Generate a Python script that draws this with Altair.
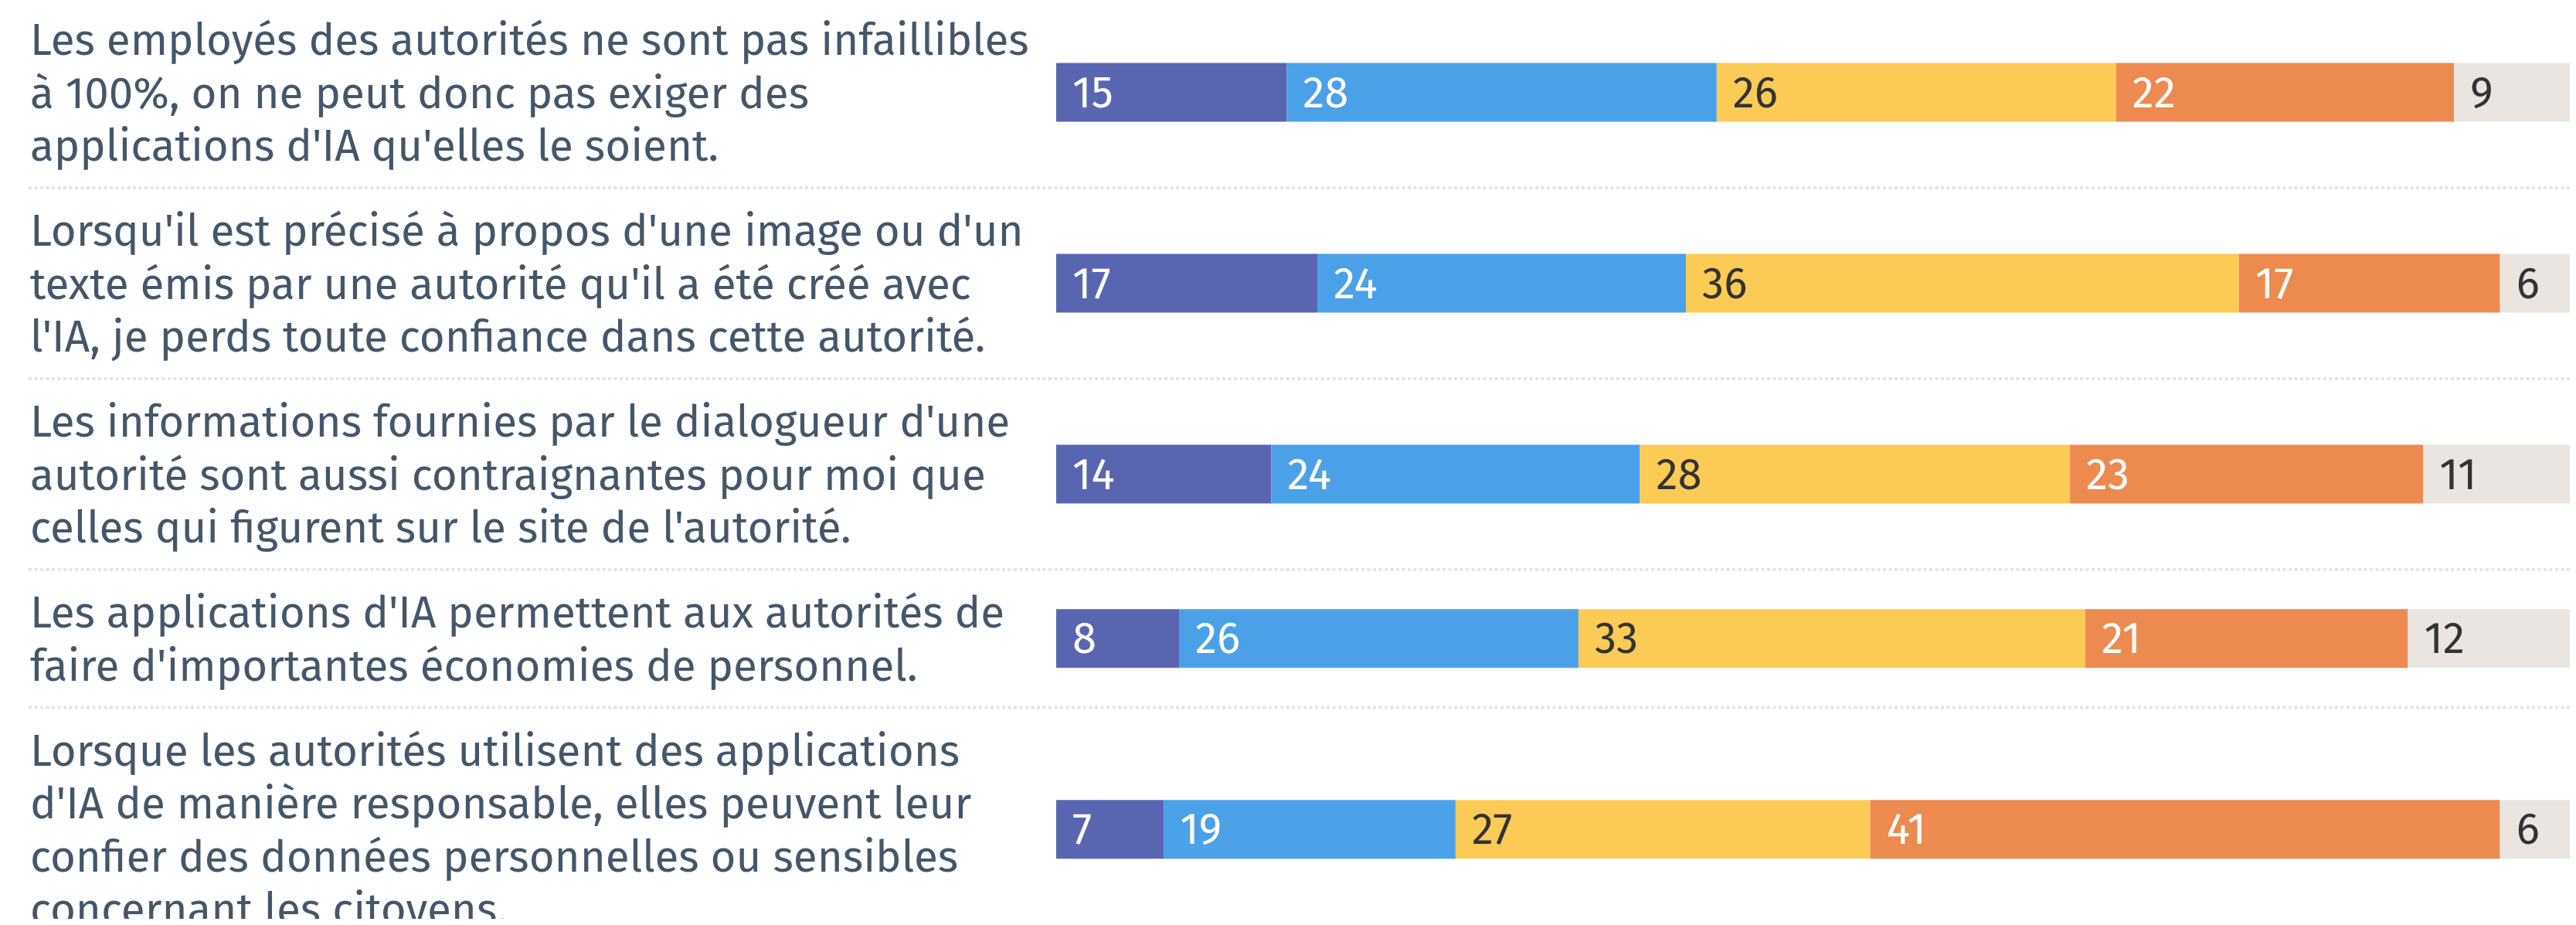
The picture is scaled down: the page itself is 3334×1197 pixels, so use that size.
import altair as alt
import pandas as pd

# ---- data ----
statements = [
    ["Les employés des autorités ne sont pas infaillibles",
     "à 100%, on ne peut donc pas exiger des",
     "applications d'IA qu'elles le soient."],
    ["Lorsqu'il est précisé à propos d'une image ou d'un",
     "texte émis par une autorité qu'il a été créé avec",
     "l'IA, je perds toute confiance dans cette autorité."],
    ["Les informations fournies par le dialogueur d'une",
     "autorité sont aussi contraignantes pour moi que",
     "celles qui figurent sur le site de l'autorité."],
    ["Les applications d'IA permettent aux autorités de",
     "faire d'importantes économies de personnel."],
    ["Lorsque les autorités utilisent des applications",
     "d'IA de manière responsable, elles peuvent leur",
     "confier des données personnelles ou sensibles",
     "concernant les citoyens."],
]
categories = ["Tout à fait d'accord", "Plutôt d'accord", "Plutôt pas d'accord",
              "Pas du tout d'accord", "Ne sait pas"]
cat_colors = ["#5a65b2", "#4aa1e8", "#fccb55", "#ed8a50", "#eae5e1"]
cat_text_colors = ["#ffffff", "#ffffff", "#333333", "#ffffff", "#333333"]

v_tout_fait = [15, 17, 14, 8, 7]
v_plutot = [28, 24, 24, 26, 19]
v_plutot_pas = [26, 36, 28, 33, 27]
v_pas_du_tout = [22, 17, 23, 21, 41]
v_nsp = [9, 6, 11, 12, 6]
series = [v_tout_fait, v_plutot, v_plutot_pas, v_pas_du_tout, v_nsp]

# ---- layout (pixel units of the vertical scale) ----
W, H = 3318, 1181
LINE_H = 68.5
ROW_PAD = 41.5
BAR_H = 76
FS = 56.5
FONT = "Fira Sans, Open Sans, Noto Sans, sans-serif"

row_top = -4.0
rows = []
for i, lines in enumerate(statements):
    h = ROW_PAD + LINE_H * len(lines)
    c = row_top + h / 2
    rows.append({"row": i, "label": "\n".join(lines), "center": c,
                 "ylab": c - (len(lines) - 1) * LINE_H / 2,
                 "bottom": row_top + h, "last": i == len(statements) - 1})
    row_top += h
rows_df = pd.DataFrame(rows)

recs = []
for i in range(len(statements)):
    for k, cat in enumerate(categories):
        recs.append({"row": i, "cat": cat, "k": k, "value": series[k][i],
                     "center": rows[i]["center"], "tcol": cat_text_colors[k]})
bars_df = pd.DataFrame(recs)

yscale = alt.Scale(domain=[8, 8 + H], range=[0, H])
xscale = alt.Scale(domain=[0, 100], range=[1359, 1359 + 1988])

base = alt.Chart(bars_df).transform_stack(
    stack="value", as_=["x0", "x1"], groupby=["row"], sort=[alt.SortField("k")]
).transform_calculate(
    ytop=f"datum.center - {BAR_H / 2}", ybot=f"datum.center + {BAR_H / 2}"
)

bars = base.mark_bar(clip=True).encode(
    x=alt.X("x0:Q", scale=xscale, axis=None),
    x2="x1:Q",
    y=alt.Y("ytop:Q", scale=yscale, axis=None),
    y2="ybot:Q",
    color=alt.Color("cat:N", scale=alt.Scale(domain=categories, range=cat_colors), legend=None),
)

nums = base.mark_text(align="left", baseline="middle", dx=21, dy=2, font=FONT, fontSize=FS, clip=True).encode(
    x=alt.X("x0:Q", scale=xscale, axis=None),
    y=alt.Y("center:Q", scale=yscale, axis=None),
    text="value:Q",
    color=alt.Color("tcol:N", scale=None),
)

seps = alt.Chart(rows_df).transform_filter("!datum.last").mark_rule(
    color="#e1e4e8", strokeWidth=4, strokeDash=[4, 3.5]
).encode(
    x=alt.value(29), x2=alt.value(W),
    y=alt.Y("bottom:Q", scale=yscale, axis=None),
)

labels = alt.Chart(rows_df).mark_text(
    align="left", baseline="middle", lineBreak="\n", lineHeight=LINE_H, dy=3,
    font=FONT, fontSize=FS, color="#44576a", clip=True
).encode(
    x=alt.value(31),
    y=alt.Y("ylab:Q", scale=yscale, axis=None),
    text="label:N",
)

chart = alt.layer(seps, bars, nums, labels).properties(
    width=W, height=H, padding=0, autosize=alt.AutoSizeParams(type="none")
).configure_view(stroke=None)

chart.save("out.html", embed_options={"renderer": "svg", "actions": False})
